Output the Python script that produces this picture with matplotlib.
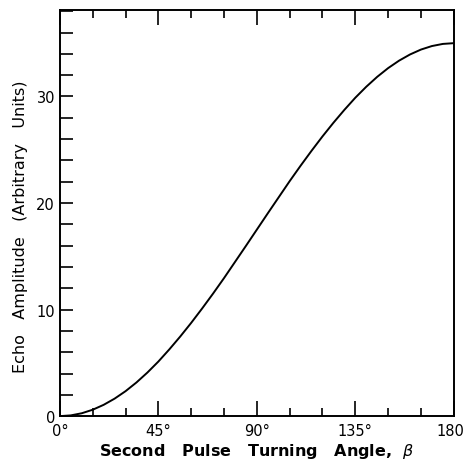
import numpy as np
import matplotlib
matplotlib.use("Agg")
import matplotlib.pyplot as plt
from matplotlib.ticker import MultipleLocator

# turning angle (deg) and echo amplitude
beta = [0, 5, 10, 15, 20, 25, 30, 35, 40, 45, 50, 55, 60, 65, 70, 75, 80, 85, 90,
        95, 100, 105, 110, 115, 120, 125, 130, 135, 140, 145, 150, 155, 160, 165,
        170, 175, 180]
amp = [0, 0.07, 0.27, 0.60, 1.06, 1.64, 2.34, 3.16, 4.09, 5.12, 6.26, 7.47, 8.75,
       10.10, 11.50, 12.95, 14.46, 15.97, 17.50, 19.03, 20.54, 22.05, 23.50, 24.90,
       26.25, 27.53, 28.74, 29.88, 30.91, 31.84, 32.66, 33.36, 33.94, 34.40, 34.73,
       34.93, 35.00]

xticks = [0, 45, 90, 135, 180]
xticklabels = ["0°", "45°", "90°", "135°", "180°"]
yticks = [0, 10, 20, 30]

fig = plt.figure(figsize=(4.64, 4.64), dpi=100)
ax = fig.add_axes([0.129, 0.101, 0.849, 0.875])

ax.plot(beta, amp, color="black", lw=1.4)

ax.set_xlim(0, 180)
ax.set_ylim(0, 38.1)
ax.set_xticks(xticks)
ax.set_xticklabels(xticklabels)
ax.set_yticks(yticks)
ax.xaxis.set_minor_locator(MultipleLocator(15))
ax.yaxis.set_minor_locator(MultipleLocator(2))

ax.tick_params(which="both", direction="in", top=True, right=False, width=1.2,
               labelsize=10.5, colors="black")
ax.tick_params(axis="x", which="major", length=11, pad=5)
ax.tick_params(axis="x", which="minor", length=6)
ax.tick_params(axis="y", which="both", length=9)

for s in ax.spines.values():
    s.set_linewidth(1.4)

ax.set_xlabel("Second   Pulse   Turning   Angle,  $\\beta$", fontsize=11.5,
              fontweight="bold", labelpad=2)
ax.set_ylabel("Echo   Amplitude   (Arbitrary   Units)", fontsize=11.5)
ax.yaxis.set_label_coords(-0.08, 0.47)

fig.savefig("out.png", dpi=100)
